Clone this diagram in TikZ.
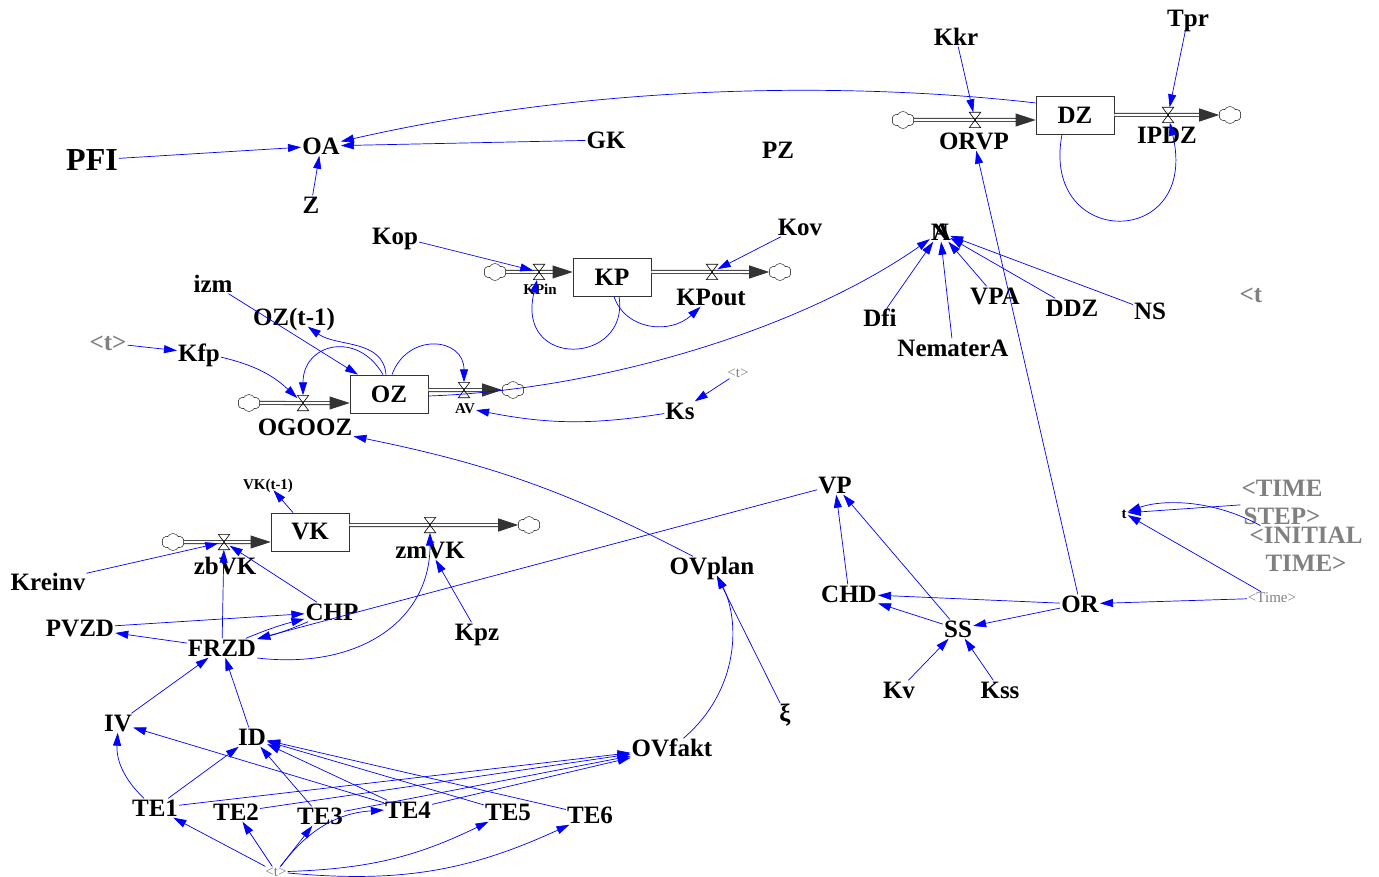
\documentclass[tikz,border=0pt]{standalone}
\usepackage{fontspec}
\setmainfont{Liberation Serif}
\usetikzlibrary{arrows.meta}
\usetikzlibrary{shapes.symbols}
\definecolor{lblue}{RGB}{0,0,255}
\definecolor{lgrey}{RGB}{128,128,128}
\newcommand{\vfont}{\fontsize{25}{28}\selectfont\bfseries}
\newcommand{\sfont}{\fontsize{15}{17}\selectfont\bfseries}
\newcommand{\gfont}{\fontsize{15}{17}\selectfont}

\begin{document}
\begin{tikzpicture}[x=1pt,y=-1pt,>={Triangle[length=13pt,width=8pt]},every node/.style={inner sep=1pt}]
      \tikzstyle{var}=[font=\vfont,text height=17pt,text depth=0pt]
      \tikzstyle{small}=[font=\sfont,text height=10pt,text depth=0pt]
      \tikzstyle{shadow}=[text=lgrey,font=\vfont]
      \tikzstyle{gsmall}=[text=lgrey,font=\gfont]
      \tikzstyle{stock}=[draw=black!80,line width=.8pt,minimum width=78pt,minimum height=38pt,font=\vfont]
      \tikzstyle{valve}=[inner sep=0pt,minimum width=11pt,minimum height=15pt]
      \tikzstyle{cloudy}=[cloud,draw=black,cloud puffs=6,cloud puff arc=120,aspect=1.3,minimum width=22pt,minimum height=17pt,inner sep=0pt]
      \tikzstyle{pipe}=[draw=black!80,double=white,double distance=2.4pt,line width=.8pt,-{Triangle[length=20pt,width=13pt]}]
      \tikzstyle{link}=[->,lblue,line width=.7pt]

      \useasboundingbox (0,0) rectangle (1379,877);

      % OA
      \node[var,font=\fontsize{32}{34}\selectfont\bfseries,text height=22pt]	(PFI) at (92,160) {PFI};
      \node[var]	(OA) at (321,146) {OA};
      \node[var]	(Z) at (311,205) {Z};
      \node[var]	(GK) at (606,140) {GK};
      \node[var]	(PZ) at (778,150) {PZ};

      % DZ
      \node[stock]	(DZ) at (1075,115) {DZ};
      \node[cloudy]	(cDZin) at (903,120) {};
      \node[valve]	(vORVP) at (975,120) {};
      \node[var]	(ORVP) at (974,141) {ORVP};
      \node[valve]	(vIPDZ) at (1168,115) {};
      \node[var]	(IPDZ) at (1167,135) {IPDZ};
      \node[cloudy]	(cDZout) at (1230,115) {};
      \node[var]	(Kkr) at (956,37) {Kkr};
      \node[var]	(Tpr) at (1188,18) {Tpr};

      % N
      \node[var]	(N) at (940,232) {N};
      \node[var]	(NA) at (942,232) {A};
      \node[var]	(Dfi) at (880,318) {Dfi};
      \node[var]	(NematerA) at (953,348) {NematerA};
      \node[var]	(VPA) at (995,296) {VPA};
      \node[var]	(DDZ) at (1072,308) {DDZ};
      \node[var]	(NS) at (1150,311) {NS};
      \node[shadow]	(tR) at (1251,295) {<t};

      % KP
      \node[stock]	(KP) at (612,277) {KP};
      \node[cloudy]	(cKPin) at (495,272) {};
      \node[valve]	(vKPin) at (539,272) {};
      \node[small]	(KPin) at (540,290) {KPin};
      \node[valve]	(vKPout) at (712,272) {};
      \node[var]	(KPout) at (711,297) {KPout};
      \node[cloudy]	(cKPout) at (780,272) {};
      \node[var]	(Kop) at (395,236) {Kop};
      \node[var]	(Kov) at (800,227) {Kov};

      % OZ
      \node[stock]	(OZ) at (389,394) {OZ};
      \node[cloudy]	(cOZin) at (249,403) {};
      \node[valve]	(vOGOOZ) at (303,403) {};
      \node[var]	(OGOOZ) at (305,427) {OGOOZ};
      \node[valve]	(vAV) at (464,390) {};
      \node[small]	(AV) at (465,408) {AV};
      \node[cloudy]	(cOZout) at (513,390) {};
      \node[var]	(izm) at (213,284) {izm};
      \node[var]	(OZt) at (294,317) {OZ(t-1)};
      \node[shadow]	(tK) at (108,343) {<t>};
      \node[var]	(Kfp) at (199,353) {Kfp};
      \node[var]	(Ks) at (680,411) {Ks};
      \node[gsmall]	(tKs) at (738,373) {<t>};

      % VK
      \node[stock]	(VK) at (310,532) {VK};
      \node[cloudy]	(cVKin) at (173,542) {};
      \node[valve]	(vzbVK) at (224,542) {};
      \node[var]	(zbVK) at (225,566) {zbVK};
      \node[valve]	(vzmVK) at (430,525) {};
      \node[var]	(zmVK) at (430,550) {zmVK};
      \node[cloudy]	(cVKout) at (529,525) {};
      \node[small]	(VKt) at (268,484) {VK(t-1)};
      \node[var]	(Kreinv) at (48,582) {Kreinv};
      \node[var]	(CHP) at (332,612) {CHP};
      \node[var]	(PVZD) at (80,628) {PVZD};
      \node[var]	(FRZD) at (222,648) {FRZD};
      \node[var]	(Kpz) at (477,632) {Kpz};

      % VP, OR
      \node[var]	(OVplan) at (712,566) {OVplan};
      \node[var]	(xi) at (785,713) {ξ};
      \node[var]	(VP) at (835,485) {VP};
      \node[var]	(CHD) at (849,594) {CHD};
      \node[var]	(SS) at (958,629) {SS};
      \node[var]	(OR) at (1080,604) {OR};
      \node[var]	(Kv) at (899,690) {Kv};
      \node[var]	(Kss) at (1000,690) {Kss};
      \node[small]	(t) at (1124,513) {t};
      \node[shadow,align=center]	(TS) at (1282,502) {<TIME\\STEP>};
      \node[shadow,align=center]	(IT) at (1306,549) {<INITIAL\\TIME>};
      \node[gsmall]	(Time) at (1272,598) {<Time>};

      % TE
      \node[var]	(IV) at (118,723) {IV};
      \node[var]	(ID) at (252,737) {ID};
      \node[var]	(OVfakt) at (672,748) {OVfakt};
      \node[var]	(TE1) at (155,808) {TE1};
      \node[var]	(TE2) at (236,812) {TE2};
      \node[var]	(TE3) at (320,816) {TE3};
      \node[var]	(TE4) at (408,810) {TE4};
      \node[var]	(TE5) at (508,812) {TE5};
      \node[var]	(TE6) at (590,815) {TE6};
      \node[gsmall]	(tB) at (276,872) {<t>};

      % flows
      \draw[pipe] (cDZin) -- (cDZin -| DZ.west);
      \draw[pipe] (DZ.east |- cDZout) -- (cDZout);
      \draw[pipe] (cKPin) -- (cKPin -| KP.west);
      \draw[pipe] (KP.east |- cKPout) -- (cKPout);
      \draw[pipe] (cOZin) -- (cOZin -| OZ.west);
      \draw[pipe] (OZ.east |- cOZout) -- (cOZout);
      \draw[pipe] (cVKin) -- (cVKin -| VK.west);
      \draw[pipe] (VK.east |- cVKout) -- (cVKout);
      \foreach \v in {vORVP,vIPDZ,vKPin,vKPout,vOGOOZ,vAV,vzbVK,vzmVK}
        \draw[line width=.6pt] (\v.north west) -- (\v.north east) -- (\v.south west) -- (\v.south east) -- cycle;

      \path[link]
	(PFI) edge (OA)
	(GK) edge (OA)
	(Z) edge (OA)
	(Kkr) edge (vORVP)
	(Tpr) edge (vIPDZ)
	(OR) edge (ORVP)
	(Dfi) edge (N)
	(NematerA) edge (N)
	(VPA) edge (N)
	(DDZ) edge (N)
	(NS) edge (N)
	(Kop) edge (vKPin)
	(Kov) edge (vKPout)
	(izm) edge (OZ)
	(tK) edge (Kfp)
	(Kfp) edge [bend left=15] (vOGOOZ)
	([xshift=-3pt]OZ.north) edge [out=95,in=-35] (OZt)
	([xshift=-6pt]OZ.north) edge [out=120,in=90,looseness=1.6] (vOGOOZ)
	([xshift=3pt]OZ.north) edge [out=70,in=90,looseness=1.6] (vAV)
	(Ks) edge [bend left=10] (AV)
	(tKs) edge (Ks)
	(OVplan) edge [bend right=8] (OGOOZ)
	(VK) edge (VKt)
	(Kreinv) edge (vzbVK)
	(CHP) edge (vzbVK)
	(FRZD) edge (vzbVK)
	(PVZD) edge (CHP)
	(FRZD) edge (PVZD)
	(FRZD) edge [bend left=4] (CHP)
	(CHP) edge [bend left=4] (FRZD)
	(VP) edge (FRZD)
	(Kpz) edge (zmVK)
	(xi) edge (OVplan)
	(CHD) edge (VP)
	(SS) edge (VP)
	(SS) edge (CHD)
	(OR) edge (CHD)
	(OR) edge (SS)
	(Kv) edge (SS)
	(Kss) edge (SS)
	(Time) edge (OR)
	(Time) edge (t)
	(TS) edge (t)
	(IV) edge (FRZD)
	(ID) edge (FRZD)
	(TE1) edge [bend left=25] (IV)
	(TE1) edge (ID)
	(TE4) edge (IV)
	(TE3) edge (ID)
	(TE4) edge (ID)
	(TE5) edge (ID)
	(TE6) edge (ID)
	(TE1) edge (OVfakt)
	(TE2) edge (OVfakt)
	(TE3) edge (OVfakt)
	(TE4) edge (OVfakt)
	(tB) edge (TE1)
	(tB) edge (TE2)
	(tB) edge (TE3)
	(tB) edge [bend left=25] (TE4)
	(tB) edge [bend right=12] (TE5)
	(tB) edge [bend right=15] (TE6);

      \draw[link] (DZ.163) .. controls (880,85) and (620,78) .. (OA);
      \draw[link] ([xshift=-13pt]DZ.south) .. controls (1040,250) and (1200,250) .. (vIPDZ);
      \draw[link] ([xshift=7pt]KP.south) .. controls (630,365) and (515,370) .. (vKPin);
      \draw[link] ([xshift=2pt]KP.south) .. controls (625,330) and (670,335) .. (KPout);
      \draw[link] ([yshift=-2pt]OZ.east) .. controls (600,390) and (800,330) .. (N);
      \draw[link] ([yshift=-10pt]FRZD.east) .. controls (360,670) and (430,620) .. (vzmVK);
      \draw[link] (OVfakt) .. controls (740,690) and (740,620) .. (OVplan);
      \draw[link] ([xshift=12pt]IT.north west) .. controls (1210,498) and (1160,500) .. (t);
\end{tikzpicture}
\end{document}
